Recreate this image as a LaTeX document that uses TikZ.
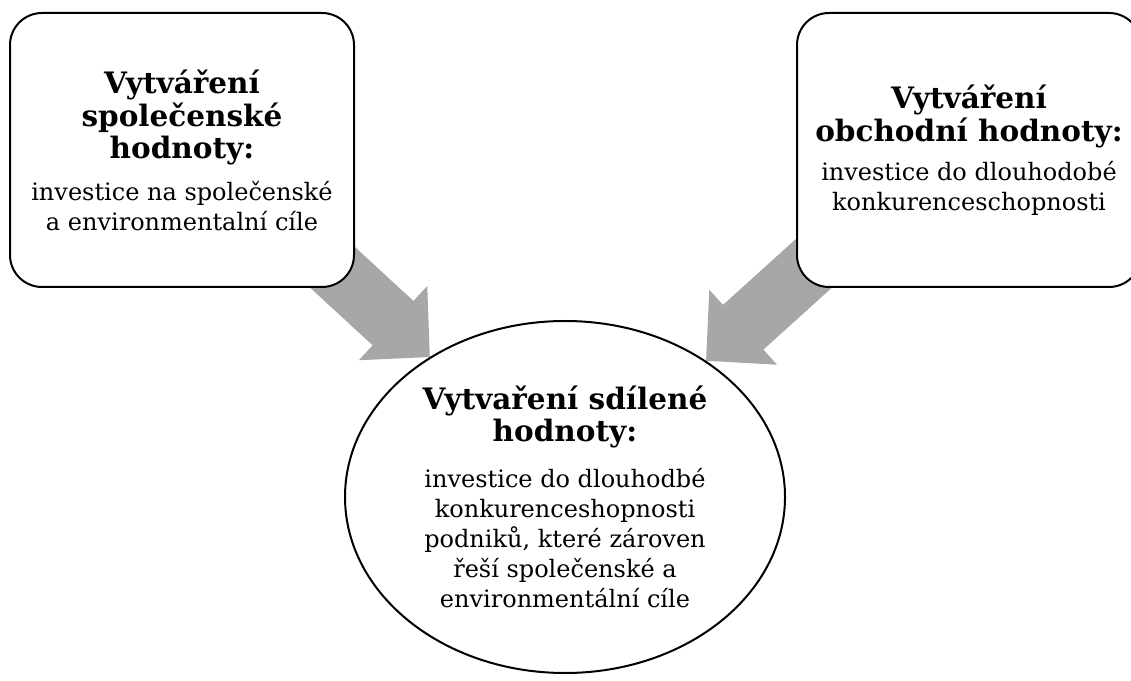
\documentclass[tikz,border=0pt]{standalone}
\usepackage{fontspec}
\setmainfont{DejaVu Serif}
\usetikzlibrary{shapes.geometric,arrows.meta,backgrounds,calc}
\definecolor{flowgray}{RGB}{167,167,167}
\newcommand{\valhead}[1]{{\fontsize{29.5}{32}\selectfont\bfseries #1}}
\tikzset{
  valuebox/.style={draw,line width=2pt,rounded corners=32pt,fill=white,
    minimum width=344pt,minimum height=274pt,inner sep=0pt,align=center,
    font=\fontsize{24}{30}\selectfont},
  sharedval/.style={draw,ellipse,line width=2pt,fill=white,
    minimum width=440pt,minimum height=352pt,inner sep=0pt,align=center,
    font=\fontsize{24}{30}\selectfont},
  flow/.style={draw=flowgray,line width=60pt,
    -{Triangle[width=101pt,length=50pt,line width=0pt]}},
  flowshaft/.style={draw=flowgray,line width=60pt}
}
\begin{document}
\begin{tikzpicture}[x=1pt,y=1pt]
  \useasboundingbox (0,0) rectangle (1131,680);
  % boxes
  \node[valuebox] (social) at (182,530)
    {\valhead{Vytváření}\\[2pt]\valhead{společenské}\\[2pt]\valhead{hodnoty:}\\[12pt]
     investice na společenské\\a environmentalní cíle};
  \node[valuebox] (business) at (969,530)
    {\valhead{Vytváření}\\[2pt]\valhead{obchodní hodnoty:}\\[9pt]
     investice do dlouhodobé\\konkurenceschopnosti};
  % shared value
  \node[sharedval] (shared) at (565,183)
    {\valhead{Vytvaření sdílené}\\[2pt]\valhead{hodnoty:}\\[16pt]
     investice do dlouhodbé\\konkurenceshopnosti\\podniků, které zároven\\řeší společenské a\\environmentální cíle};
  % arrows
  \coordinate (socialsrc) at (305,438);
  \coordinate (businesssrc) at (832,433);
  \begin{scope}[on background layer]
    \draw[flow] (socialsrc) -- (shared.134.4);
    \draw[flowshaft] (socialsrc) -- ($(shared.134.4)!40pt!(socialsrc)$);
    \draw[flow] (businesssrc) -- (shared.44.8);
    \draw[flowshaft] (businesssrc) -- ($(shared.44.8)!40pt!(businesssrc)$);
  \end{scope}
\end{tikzpicture}
\end{document}
